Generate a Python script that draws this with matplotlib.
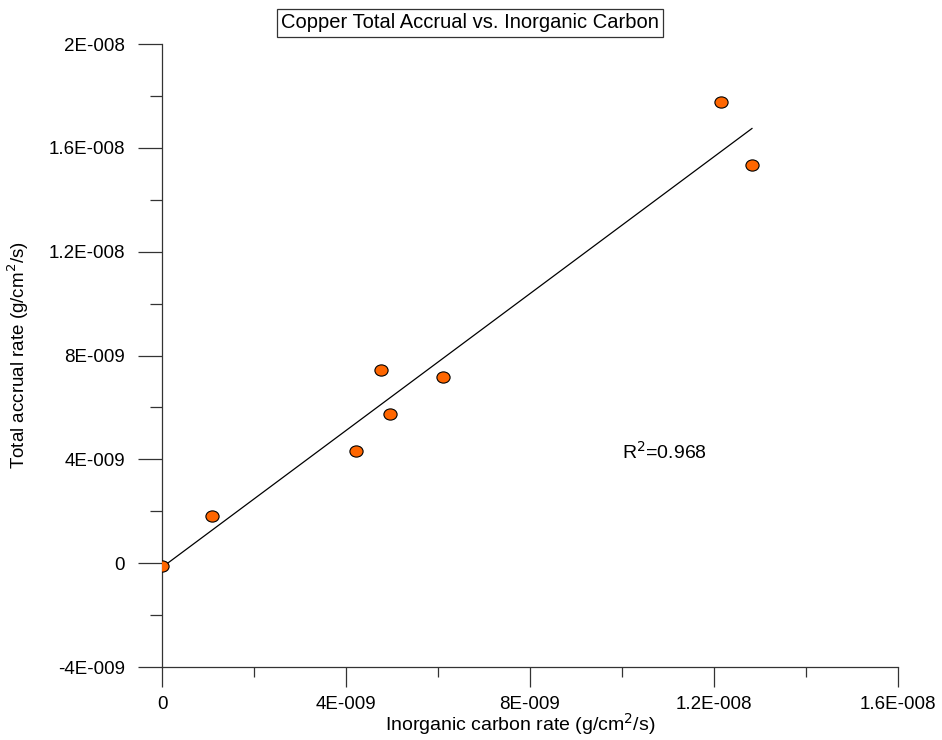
import matplotlib.pyplot as plt
import numpy as np
from matplotlib.path import Path
from matplotlib.transforms import Affine2D
from matplotlib.ticker import MultipleLocator, FixedFormatter, FixedLocator

plt.rcParams["font.family"] = ["Liberation Sans", "DejaVu Sans"]

# inorganic carbon rate (g/cm2/s) and total accrual rate (g/cm2/s)
carbon_rate = [0.0, 1.09e-9, 4.22e-9, 4.76e-9, 4.96e-9, 6.11e-9, 12.15e-9, 12.83e-9]
accrual_rate = [-0.11e-9, 1.82e-9, 4.32e-9, 7.44e-9, 5.75e-9, 7.17e-9, 17.76e-9, 15.34e-9]

x_ticks = [0, 4e-9, 8e-9, 1.2e-8, 1.6e-8]
x_tick_labels = ["0", "4E-009", "8E-009", "1.2E-008", "1.6E-008"]
y_ticks = [-4e-9, 0, 4e-9, 8e-9, 1.2e-8, 1.6e-8, 2e-8]
y_tick_labels = ["-4E-009", "0", "4E-009", "8E-009", "1.2E-008", "1.6E-008", "2E-008"]
r_squared = "0.968"


def main():
    fig = plt.figure(figsize=(9.42, 7.4), dpi=100)
    ax = fig.add_axes([0.172, 0.0986, 0.781, 0.8419])

    x = np.array(carbon_rate)
    y = np.array(accrual_rate)
    slope, intercept = np.polyfit(x, y, 1)
    xs = np.array([x.min(), x.max()])
    ax.plot(xs, slope * xs + intercept, color="black", lw=0.9, zorder=2)

    # slightly flattened circle, like the original markers
    oval = Path.unit_circle().transformed(Affine2D().scale(1.0, 0.85))
    ax.plot(x, y, ls="none", marker=oval, ms=9.5, mfc="#ff6600", mec="black",
            mew=0.8, zorder=3)

    ax.set_xlim(0, 1.6e-8)
    ax.set_ylim(-4e-9, 2e-8)

    ax.xaxis.set_major_locator(FixedLocator(x_ticks))
    ax.xaxis.set_major_formatter(FixedFormatter(x_tick_labels))
    ax.xaxis.set_minor_locator(MultipleLocator(2e-9))
    ax.yaxis.set_major_locator(FixedLocator(y_ticks))
    ax.yaxis.set_major_formatter(FixedFormatter(y_tick_labels))
    ax.yaxis.set_minor_locator(MultipleLocator(2e-9))

    ax.spines["top"].set_visible(False)
    ax.spines["right"].set_visible(False)
    for s in ("left", "bottom"):
        ax.spines[s].set_color("#333333")
        ax.spines[s].set_linewidth(0.9)

    ax.tick_params(axis="x", which="major", direction="out", length=14.5,
                   width=0.9, color="#333333", pad=6, labelsize=13.5)
    ax.tick_params(axis="x", which="minor", direction="out", length=7,
                   width=0.9, color="#333333")
    ax.tick_params(axis="y", which="major", direction="out", length=17.5,
                   width=0.9, color="#333333", pad=9, labelsize=13.5)
    ax.tick_params(axis="y", which="minor", direction="out", length=8.5,
                   width=0.9, color="#333333")

    ax.text(1.0e-8, 4.3e-9, "R$^2$=" + r_squared, fontsize=14,
            ha="left", va="center")

    fig.text(470 / 942, 1 - 23 / 740, "Copper Total Accrual vs. Inorganic Carbon",
             fontsize=14.5, ha="center", va="center",
             bbox=dict(boxstyle="square,pad=0.2", fc="white", ec="#333333", lw=0.9))
    fig.text(520 / 942, 1 - 731 / 740, "Inorganic carbon rate (g/cm$^2$/s)",
             fontsize=14, ha="center", va="baseline")
    fig.text(18 / 942, 1 - 355 / 740, "Total accrual rate (g/cm$^2$/s)",
             fontsize=13.5, ha="center", va="center", rotation=90)

    fig.savefig("out.png", dpi=100)


if __name__ == "__main__":
    main()
